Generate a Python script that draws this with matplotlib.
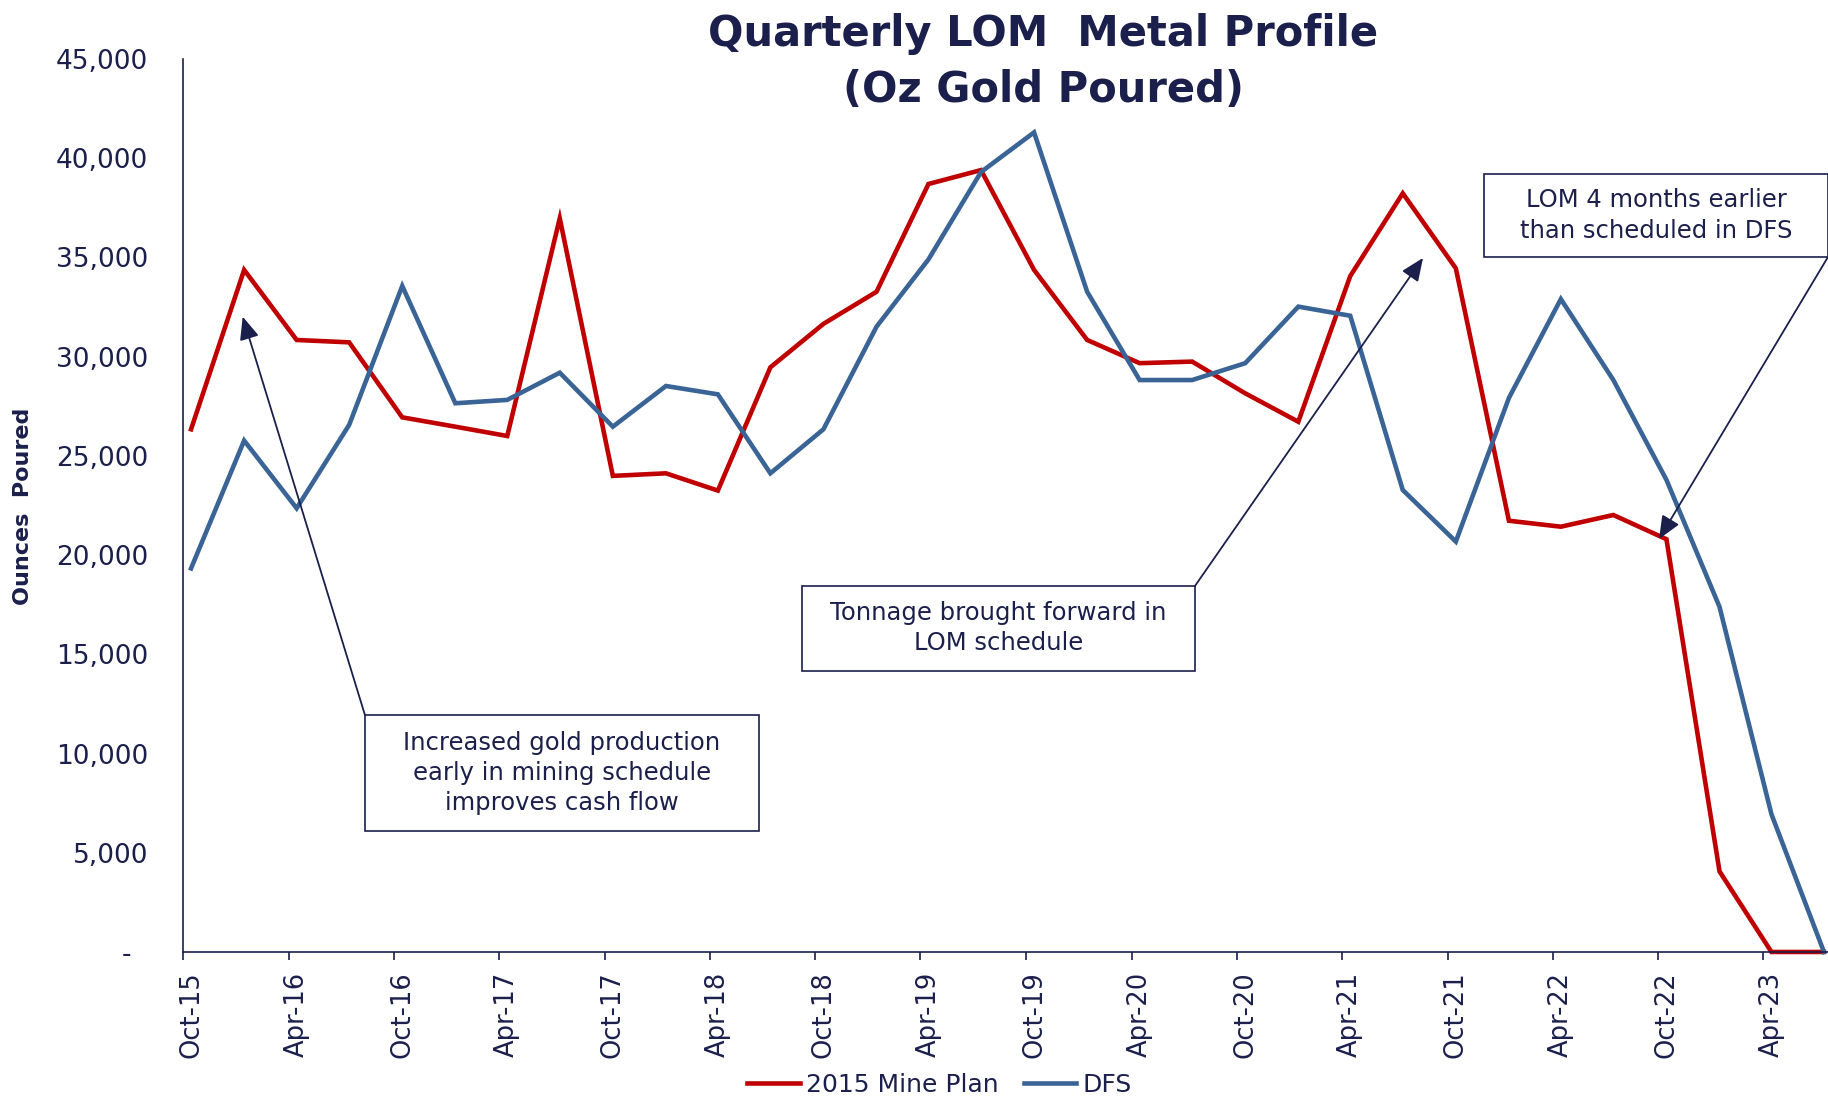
import numpy as np
import pandas as pd
import matplotlib
matplotlib.use("Agg")
import matplotlib.pyplot as plt
import matplotlib.dates as mdates
from matplotlib.patches import Rectangle
from matplotlib.ticker import FixedLocator, FuncFormatter

# quarterly gold poured (oz)
quarters = pd.date_range("2015-10-15", periods=32, freq=pd.DateOffset(months=3))
mine_plan_2015 = [26340, 34370, 30840, 30720, 26940, 26470, 26000, 36970,
                  23990, 24120, 23250, 29460, 31650, 33270, 38700, 39400,
                  34370, 30840, 29670, 29750, 28150, 26720, 34060, 38230,
                  34450, 21730, 21430, 22020, 20800, 4060, 0, 0]
dfs = [19330, 25770, 22360, 26560, 33560, 27650, 27820, 29190,
       26470, 28520, 28100, 24120, 26340, 31510, 34900, 39300,
       41300, 33270, 28820, 28820, 29670, 32520, 32060, 23280,
       20680, 27920, 32900, 28820, 23790, 17390, 6940, 0]
series_names = ["2015 Mine Plan", "DFS"]
y_ticks = [0, 5000, 10000, 15000, 20000, 25000, 30000, 35000, 40000, 45000]

title = "Quarterly LOM  Metal Profile\n(Oz Gold Poured)"
y_label = "Ounces  Poured"
notes = ["Increased gold production\nearly in mining schedule\nimproves cash flow",
         "Tonnage brought forward in\nLOM schedule",
         "LOM 4 months earlier\nthan scheduled in DFS"]

NAVY = "#1b1f4b"
RED = "#c00000"
BLUE = "#3a6495"

plt.rcParams["font.family"] = ["DejaVu Sans"]

fig = plt.figure(figsize=(18.28, 10.98), dpi=100)
ax = fig.add_axes([0.1001, 0.1330, 0.8999, 0.8133])

ax.plot(quarters, mine_plan_2015, color=RED, lw=3.3, label=series_names[0],
        clip_on=False, solid_joinstyle="miter")
ax.plot(quarters, dfs, color=BLUE, lw=3.3, label=series_names[1],
        clip_on=False, solid_joinstyle="miter")

ax.set_ylim(0, 45000)
ax.set_xlim(pd.Timestamp("2015-10-01"), pd.Timestamp("2023-07-22"))

for s in ["top", "right"]:
    ax.spines[s].set_visible(False)
for s in ["left", "bottom"]:
    ax.spines[s].set_color(NAVY)
    ax.spines[s].set_linewidth(1.2)

ax.set_yticks(y_ticks)
ax.yaxis.set_major_formatter(FuncFormatter(lambda v, p: "-  " if v == 0 else f"{v:,.0f}"))
ax.tick_params(axis="y", length=0, pad=25, labelsize=19, labelcolor=NAVY)

# tick marks at month starts, labels at the data points
ax.xaxis.set_major_locator(mdates.MonthLocator(bymonth=(4, 10)))
ax.xaxis.set_major_formatter(plt.NullFormatter())
ax.tick_params(axis="x", which="major", length=6, width=1.2, color=NAVY, direction="out")
ax.xaxis.set_minor_locator(FixedLocator(mdates.date2num(quarters[::2])))
ax.xaxis.set_minor_formatter(mdates.DateFormatter("%b-%y"))
ax.tick_params(axis="x", which="minor", length=0, pad=14, labelsize=18.5,
               labelcolor=NAVY, labelrotation=90)

fig.text(0.5706, 0.9435, title, ha="center", va="center", fontsize=30,
         fontweight="bold", color=NAVY, linespacing=1.4)
fig.text(0.0126, 0.539, y_label, ha="center", va="center", rotation=90,
         fontsize=16, fontweight="bold", color=NAVY)

# annotation boxes in axes fraction: (x0, y0, x1, y1), arrow start, arrow tip
boxes = [(0.1106, 0.1355, 0.3502, 0.2654), (0.3763, 0.3147, 0.6152, 0.4099),
         (0.7909, 0.7783, 1.0, 0.8712)]
starts = [(0.1106, 0.2654), (0.6152, 0.4099), (1.0, 0.7783)]
tips = [(0.0363, 0.7114), (0.7538, 0.7772), (0.8973, 0.4625)]
for note, (x0, y0, x1, y1), st, tp in zip(notes, boxes, starts, tips):
    ax.add_patch(Rectangle((x0, y0), x1 - x0, y1 - y0, transform=ax.transAxes,
                           fill=True, facecolor="white", edgecolor=NAVY, lw=1.2,
                           clip_on=False, zorder=4))
    ax.text((x0 + x1) / 2, (y0 + y1) / 2, note, transform=ax.transAxes,
            ha="center", va="center", fontsize=17.5, color=NAVY,
            linespacing=1.32, zorder=5)
    ax.annotate("", xy=tp, xycoords="axes fraction", xytext=st,
                textcoords="axes fraction", annotation_clip=False, zorder=5,
                arrowprops=dict(arrowstyle="-|>,head_length=0.7,head_width=0.3",
                                mutation_scale=20, color=NAVY, lw=1.3,
                                shrinkA=0, shrinkB=0))

fig.legend(loc="center", bbox_to_anchor=(0.514, 0.012), ncol=2, frameon=False,
           fontsize=18, labelcolor=NAVY, handlelength=2.1, handletextpad=0.25,
           columnspacing=1.0, borderpad=0)

fig.savefig("out.png", dpi=100)
